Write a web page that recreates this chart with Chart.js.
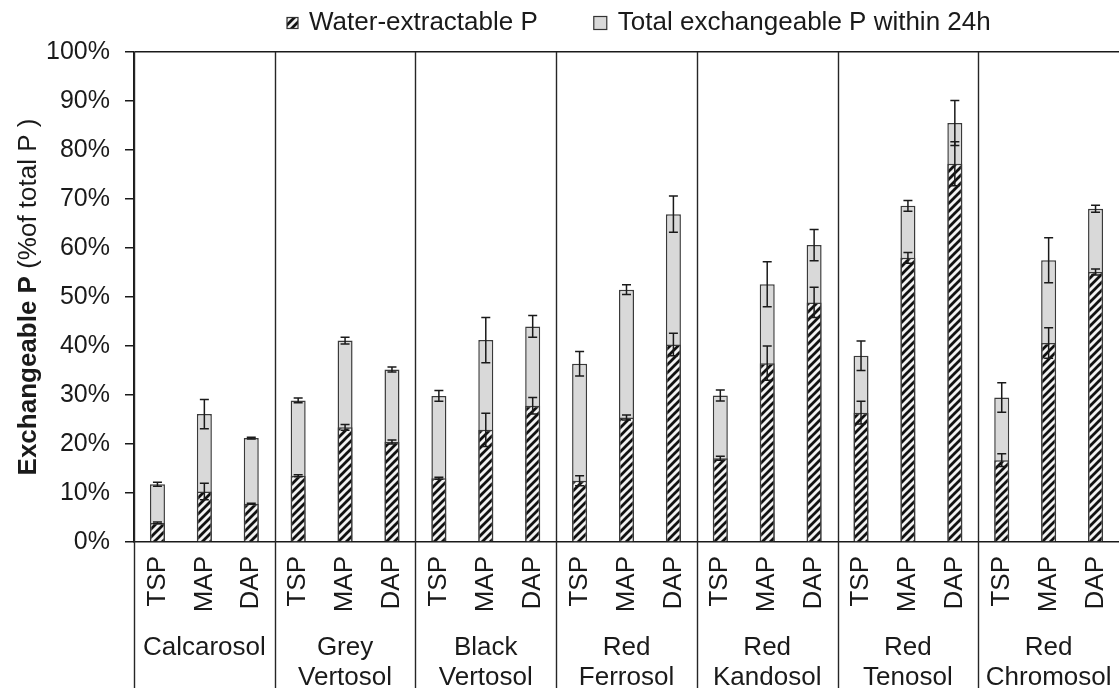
<!DOCTYPE html>
<html lang="en">
<head>
<meta charset="UTF-8">
<title>Exchangeable P</title>
<script src="https://cdn.jsdelivr.net/npm/chart.js@4.4.1/dist/chart.umd.min.js"></script>
<style>
  html, body { margin: 0; padding: 0; background: #fff; }
  canvas { display: block; }
</style>
</head>
<body>
<canvas id="pchart" width="1119" height="688"></canvas>
<script>
// soil groups (two-line labels) and fertilisers inside each group
const soils = [
    ['Calcarosol'],
    ['Grey', 'Vertosol'],
    ['Black', 'Vertosol'],
    ['Red', 'Ferrosol'],
    ['Red', 'Kandosol'],
    ['Red', 'Tenosol'],
    ['Red', 'Chromosol']
];
const fertilisers = ['TSP', 'MAP', 'DAP'];

// % of total P (TSP, MAP, DAP per soil)
const waterP   = [3.9, 10.3, 7.8,   13.5, 23.4, 20.4,  13.0, 22.9, 27.8,  12.5, 25.4, 40.3,  17.1, 36.5, 48.9,  26.4, 58.0, 77.2,  16.7, 40.6, 55.1];
const waterErr = [0.2, 1.7, 0.1,    0.2, 0.6, 0.4,     0.2, 3.4, 1.7,     1.0, 0.5, 2.3,     0.4, 3.5, 3.1,     2.3, 1.1, 4.5,     1.3, 3.1, 0.6];
const totalP   = [11.8, 26.1, 21.2, 28.9, 41.1, 35.2,  29.8, 41.2, 44.0,  36.4, 51.5, 66.9,  29.9, 52.6, 60.6,  38.0, 68.6, 85.5,  29.5, 57.5, 68.0];
const totalErr = [0.4, 3.0, 0.2,    0.5, 0.7, 0.5,     1.1, 4.6, 2.2,     2.5, 1.0, 3.7,     1.1, 4.6, 3.2,     3.0, 1.1, 4.6,     3.0, 4.6, 0.7];

const labels = soils.flatMap(() => fertilisers);

const FONT = '"Liberation Sans", Arial, sans-serif';
const INK = '#1a1a1a';

// diagonal hatch for water-extractable P
function makeHatch() {
    const c = document.createElement('canvas');
    c.width = 8; c.height = 8;
    const g = c.getContext('2d');
    g.fillStyle = '#f2f2f2';
    g.fillRect(0, 0, 8, 8);
    g.strokeStyle = '#111';
    g.lineWidth = 2.8;
    g.beginPath();
    g.moveTo(-2, 10); g.lineTo(10, -2);
    g.moveTo(-2, 2); g.lineTo(2, -2);
    g.moveTo(6, 10); g.lineTo(10, 6);
    g.stroke();
    return g.createPattern(c, 'repeat');
}
const hatch = makeHatch();

// error bars drawn through the scales
const errorBars = {
    id: 'errorBars',
    afterDatasetsDraw(chart) {
        const ctx = chart.ctx;
        const y = chart.scales.y;
        ctx.save();
        ctx.strokeStyle = INK;
        ctx.lineWidth = 1.5;
        [1, 0].forEach(d => {
            const ds = chart.data.datasets[d];
            chart.getDatasetMeta(d).data.forEach((bar, i) => {
                const v = ds.data[i], e = ds.errors[i];
                const top = y.getPixelForValue(v + e);
                const bot = y.getPixelForValue(v - e);
                const cap = 4.5;
                ctx.beginPath();
                ctx.moveTo(bar.x, top); ctx.lineTo(bar.x, bot);
                ctx.moveTo(bar.x - cap, top); ctx.lineTo(bar.x + cap, top);
                ctx.moveTo(bar.x - cap, bot); ctx.lineTo(bar.x + cap, bot);
                ctx.stroke();
            });
        });
        ctx.restore();
    }
};

// group separators, soil names, y title and legend
const decorations = {
    id: 'decorations',
    afterDraw(chart) {
        const ctx = chart.ctx;
        const x = chart.scales.x;
        const area = chart.chartArea;
        const half = (x.getPixelForValue(1) - x.getPixelForValue(0)) / 2;
        ctx.save();

        // separators
        ctx.strokeStyle = '#262626';
        ctx.lineWidth = 1.4;
        soils.forEach((s, g) => {
            const sx = Math.round(x.getPixelForValue(g * 3) - half) + 0.5;
            ctx.beginPath();
            ctx.moveTo(sx, area.top);
            ctx.lineTo(sx, chart.height);
            ctx.stroke();
        });

        // soil names
        ctx.fillStyle = INK;
        ctx.font = '26px ' + FONT;
        ctx.textAlign = 'center';
        ctx.textBaseline = 'alphabetic';
        soils.forEach((s, g) => {
            const cx = (x.getPixelForValue(g * 3) + x.getPixelForValue(g * 3 + 2)) / 2;
            s.forEach((line, k) => ctx.fillText(line, cx, 655 + k * 30));
        });

        // y axis title: bold + normal parts
        const boldPart = 'Exchangeable P';
        const normPart = ' (%of total P )';
        ctx.save();
        ctx.translate(29, (area.top + area.bottom) / 2);
        ctx.rotate(-Math.PI / 2);
        ctx.textBaseline = 'middle';
        ctx.textAlign = 'left';
        ctx.font = 'bold 26px ' + FONT;
        const wb = ctx.measureText(boldPart).width;
        ctx.font = '26px ' + FONT;
        const wn = ctx.measureText(normPart).width;
        let tx = -(wb + wn) / 2;
        ctx.font = 'bold 26px ' + FONT;
        ctx.fillText(boldPart, tx, 0);
        ctx.font = '26px ' + FONT;
        ctx.fillText(normPart, tx + wb, 0);
        ctx.restore();

        // legend
        ctx.font = '26px ' + FONT;
        ctx.textAlign = 'left';
        ctx.textBaseline = 'middle';
        const ly = 23;
        let lx = area.left + 153;
        chart.data.datasets.forEach((ds, i) => {
            const box = i === 0 ? 11 : 13;
            ctx.fillStyle = ds.backgroundColor;
            ctx.fillRect(lx, ly - box / 2, box, box);
            ctx.strokeStyle = '#333';
            ctx.lineWidth = 1.2;
            ctx.strokeRect(lx, ly - box / 2, box, box);
            ctx.fillStyle = INK;
            ctx.fillText(ds.label, lx + box + 11, ly);
            lx += box + 11 + ctx.measureText(ds.label).width + 56;
        });

        ctx.restore();
    }
};

new Chart(document.getElementById('pchart').getContext('2d'), {
    type: 'bar',
    data: {
        labels: labels,
        datasets: [
            {
                label: 'Water-extractable P',
                data: waterP,
                errors: waterErr,
                backgroundColor: hatch,
                borderColor: '#3a3a3a',
                borderWidth: 1.5,
                grouped: false,
                order: 0
            },
            {
                label: 'Total exchangeable P within 24h',
                data: totalP,
                errors: totalErr,
                backgroundColor: '#d9d9d9',
                borderColor: '#3a3a3a',
                borderWidth: 1.5,
                grouped: false,
                order: 1
            }
        ]
    },
    options: {
        responsive: false,
        animation: false,
        categoryPercentage: 1,
        barPercentage: 0.32,
        layout: { padding: { top: 52, left: 0, right: 0, bottom: 0 } },
        plugins: {
            legend: { display: false },
            tooltip: { enabled: false }
        },
        scales: {
            x: {
                grid: { display: false },
                border: { display: true, color: '#1a1a1a', width: 1.5 },
                ticks: {
                    autoSkip: false,
                    minRotation: 90,
                    maxRotation: 90,
                    padding: 6,
                    color: INK,
                    font: { family: FONT, size: 26 }
                },
                afterFit(scale) {
                    scale.height = 146;
                    scale.paddingLeft = 0;
                    scale.paddingRight = 0;
                }
            },
            y: {
                min: 0,
                max: 100,
                ticks: {
                    stepSize: 10,
                    padding: 15,
                    color: INK,
                    font: { family: FONT, size: 25 },
                    callback: v => v + '%'
                },
                grid: {
                    color: c => c.tick && c.tick.value === 100 ? '#1a1a1a' : 'rgba(0,0,0,0)',
                    tickColor: '#1a1a1a',
                    tickLength: 9,
                    lineWidth: 1.5
                },
                border: { display: true, color: '#1a1a1a', width: 1.5 },
                afterFit(scale) { scale.width = 134; }
            }
        }
    },
    plugins: [errorBars, decorations]
});
</script>
</body>
</html>
